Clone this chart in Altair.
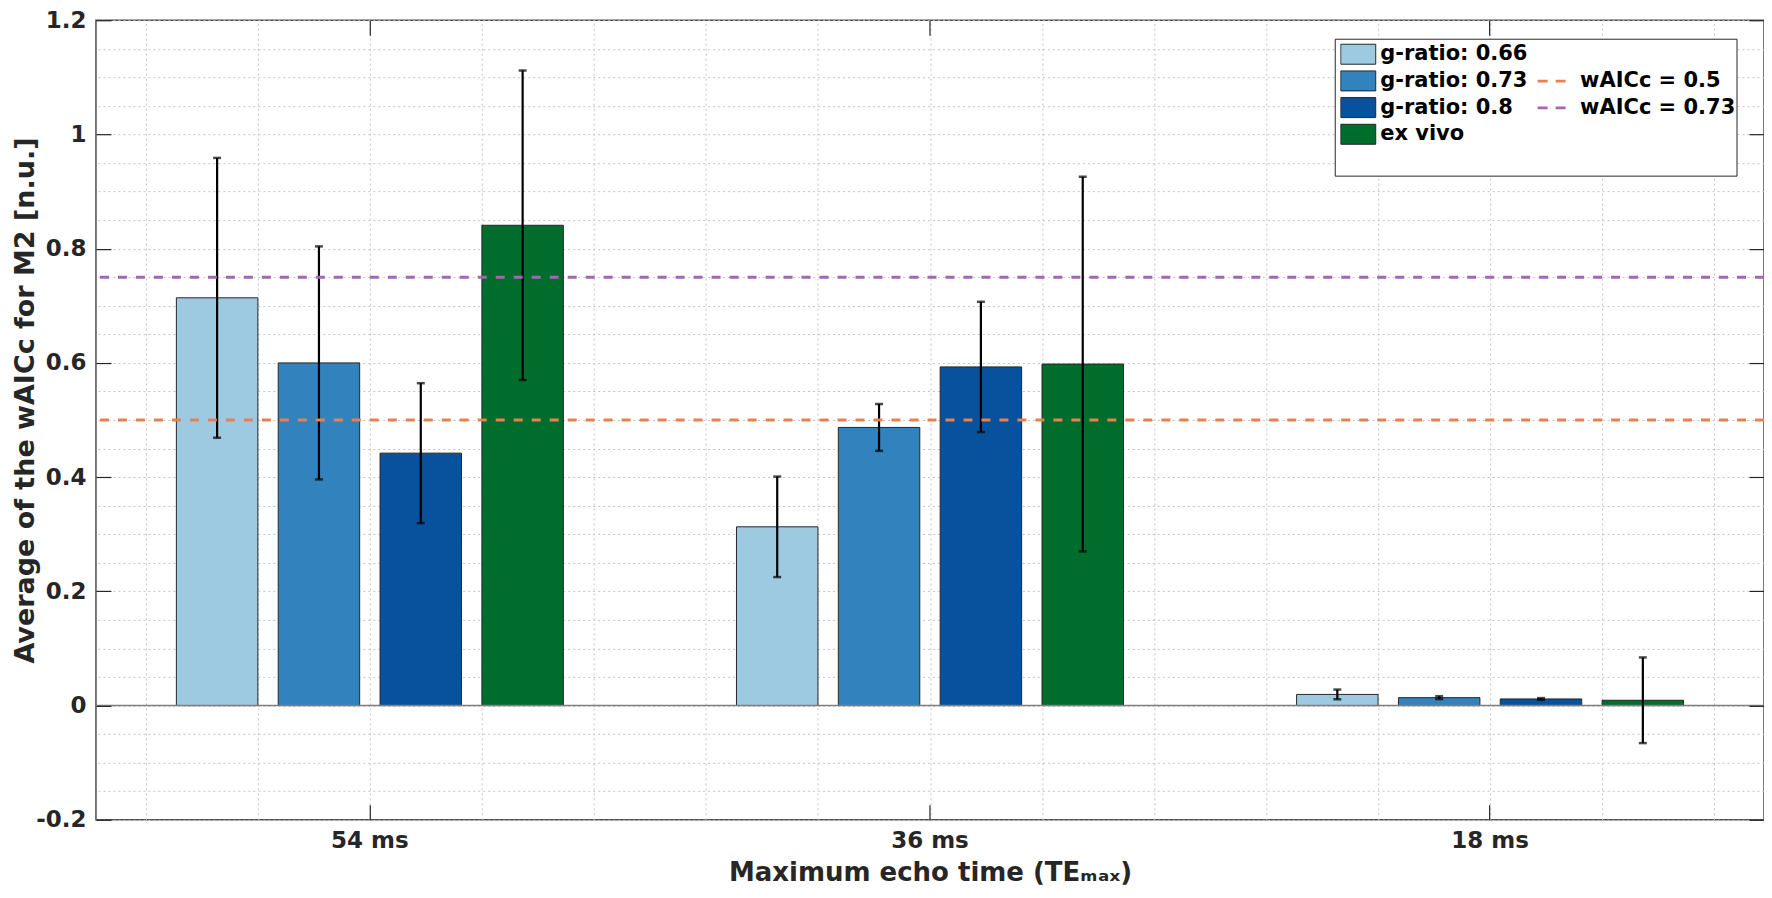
import altair as alt
import pandas as pd

# ---------------- data ----------------
groups = ["54 ms", "36 ms", "18 ms"]
series = ["g-ratio: 0.66", "g-ratio: 0.73", "g-ratio: 0.8", "ex vivo"]
bar_colors = ["#9ecae1", "#3182bd", "#08519c", "#006d2c"]

mean_g066 = [0.714, 0.313, 0.0195]
mean_g073 = [0.600, 0.487, 0.0139]
mean_g080 = [0.442, 0.593, 0.0116]
mean_exvivo = [0.841, 0.598, 0.0093]

sd_g066 = [0.245, 0.088, 0.0085]
sd_g073 = [0.204, 0.041, 0.0025]
sd_g080 = [0.1225, 0.114, 0.0015]
sd_exvivo = [0.271, 0.328, 0.075]

ref_labels = ["wAICc = 0.5", "wAICc = 0.73"]
ref_values = [0.5, 0.75]
ref_colors = ["#e8804f", "#a366b5"]

baseline_value = [0.0]

y_ticks = [-0.2, 0, 0.2, 0.4, 0.6, 0.8, 1, 1.2]
x_minor = [0.6, 0.8, 1.0, 1.2, 1.4, 1.6, 1.8, 2.0, 2.2, 2.4, 2.6, 2.8, 3.0, 3.2, 3.4]
y_minor = [round(-0.2 + 0.05 * i, 2) for i in range(29)]

rows = []
for s, means, sds in zip(series,
                         [mean_g066, mean_g073, mean_g080, mean_exvivo],
                         [sd_g066, sd_g073, sd_g080, sd_exvivo]):
    for g, m, e in zip(groups, means, sds):
        rows.append({"group": g, "series": s, "mean": m, "lo": m - e, "hi": m + e})
bars_df = pd.DataFrame(rows)
ref_df = pd.DataFrame({"label": ref_labels, "value": ref_values})
base_df = pd.DataFrame({"baseline": baseline_value})

# ---------------- style ----------------
FONT = "DejaVu Sans"
INK = "#262626"
GRID = "#c4c4c4"

x_scale = alt.Scale(domain=groups, paddingInner=0.2727, paddingOuter=0.1254)
off_scale = alt.Scale(domain=series, paddingInner=0.2, paddingOuter=0.1)
y_scale = alt.Scale(domain=[-0.2, 1.2], nice=False, zero=True)


def tick_axis(orient, values=None):
    kw = dict(orient=orient, offset=-15, tickSize=15, ticks=True, labels=False,
              domain=False, grid=False, title=None, tickColor=INK, tickWidth=1.2,
              zindex=1)
    if values is not None:
        kw["values"] = values
    return alt.Axis(**kw)


base = alt.Chart(bars_df)

bars = base.mark_bar(stroke=INK, strokeWidth=1).encode(
    x=alt.X("group:N", sort=groups, scale=x_scale,
            axis=alt.Axis(orient="bottom", title="Maximum echo time (TEₘₐₓ)",
                          labelAngle=0, ticks=False, tickSize=0, domain=False,
                          grid=False, labelFont=FONT, labelFontSize=23,
                          labelFontWeight="bold", labelColor=INK, labelPadding=10,
                          titleFont=FONT, titleFontSize=26, titleFontWeight="bold",
                          titleColor=INK, titlePadding=7)),
    xOffset=alt.XOffset("series:N", sort=series, scale=off_scale),
    y=alt.Y("mean:Q", scale=y_scale,
            axis=alt.Axis(orient="left", values=y_ticks, labelExpr="datum.value + ''",
                          ticks=False, tickSize=0, domain=False, grid=False,
                          labelFont=FONT, labelFontSize=23, labelFontWeight="bold",
                          labelColor=INK, labelPadding=10,
                          title="Average of the wAICc for M2 [n.u.]",
                          titleFont=FONT, titleFontSize=27, titleFontWeight="bold",
                          titleColor=INK, titleX=-70, titleY=380,
                          titleBaseline="middle", titleAngle=270)),
    y2=alt.Y2Datum(0),
    fill=alt.Fill("series:N", sort=series,
                  scale=alt.Scale(domain=series, range=bar_colors),
                  legend=alt.Legend(orient="none", legendX=1245, legendY=22.5,
                                    title=None, padding=0,
                                    symbolType="M-1,-0.571H1V0.571H-1Z",
                                    symbolSize=1225, symbolStrokeColor=INK,
                                    symbolStrokeWidth=1, symbolOpacity=1,
                                    labelFont=FONT, labelFontSize=21,
                                    labelFontWeight="bold", labelColor="black",
                                    labelOffset=4, clipHeight=23, rowPadding=3.7,
                                    labelLimit=400)),
)

baseline = alt.Chart(base_df).mark_rule(color="#808080", strokeWidth=1.5).encode(
    y=alt.Y("baseline:Q", axis=None),
)

err = base.mark_rule(color="black", strokeWidth=2.2).encode(
    x=alt.X("group:N", sort=groups, scale=x_scale, axis=tick_axis("bottom")),
    xOffset=alt.XOffset("series:N", sort=series, scale=off_scale),
    y=alt.Y("lo:Q", axis=tick_axis("left", y_ticks)),
    y2="hi:Q",
)

cap_lo = base.mark_tick(color="black", thickness=2.5, size=8).encode(
    x=alt.X("group:N", sort=groups, scale=x_scale, axis=tick_axis("top")),
    xOffset=alt.XOffset("series:N", sort=series, scale=off_scale),
    y=alt.Y("lo:Q", axis=tick_axis("right", y_ticks)),
)

cap_hi = base.mark_tick(color="black", thickness=2.5, size=8).encode(
    x=alt.X("group:N", sort=groups, scale=x_scale, axis=None),
    xOffset=alt.XOffset("series:N", sort=series, scale=off_scale),
    y=alt.Y("hi:Q", axis=None),
)

refs = alt.Chart(ref_df).mark_rule(strokeDash=[9, 9], strokeWidth=2.8).encode(
    y=alt.Y("value:Q", axis=None),
    stroke=alt.Stroke("label:N", sort=ref_labels,
                      scale=alt.Scale(domain=ref_labels, range=ref_colors),
                      legend=alt.Legend(orient="none", legendX=1441, legendY=49.5,
                                        title=None, padding=0, symbolType="stroke",
                                        symbolSize=784, symbolDash=[10, 8],
                                        symbolStrokeWidth=2.8,
                                        labelFont=FONT, labelFontSize=21,
                                        labelFontWeight="bold", labelColor="black",
                                        labelOffset=13, clipHeight=23,
                                        rowPadding=3.7, labelLimit=400)),
)

legend_frame = alt.Chart(base_df).mark_rect(fill="white", stroke=INK, strokeWidth=1).encode(
    x=alt.value(1240), x2=alt.value(1642), y=alt.value(19), y2=alt.value(156),
)

data_layers = alt.layer(bars, baseline, err, cap_lo, cap_hi, refs, legend_frame).resolve_axis(
    x="independent", y="independent"
)

grid = alt.Chart(base_df).mark_point(opacity=0).encode(
    x=alt.XDatum(1, type="quantitative",
                 scale=alt.Scale(domain=[0.511, 3.489], nice=False, zero=False),
                 axis=alt.Axis(orient="top", values=x_minor, grid=True, gridDash=[2, 3],
                               gridColor=GRID, gridWidth=1, ticks=False, labels=False,
                               domain=False, title=None)),
    y=alt.YDatum(0, type="quantitative",
                 axis=alt.Axis(orient="right", values=y_minor, grid=True, gridDash=[2, 3],
                               gridColor=GRID, gridWidth=1, ticks=False, labels=False,
                               domain=False, title=None)),
)

chart = alt.layer(grid, data_layers).resolve_scale(x="independent").resolve_axis(
    x="independent", y="independent"
).properties(
    width=1669, height=800,
    padding={"left": 88, "top": 12, "right": 0, "bottom": 70},
    autosize=alt.AutoSizeParams(type="none"),
    background="white",
).configure_view(stroke="#4d4d4d", strokeWidth=1.5)

chart.save("out.html", embed_options={"renderer": "svg", "actions": False})
